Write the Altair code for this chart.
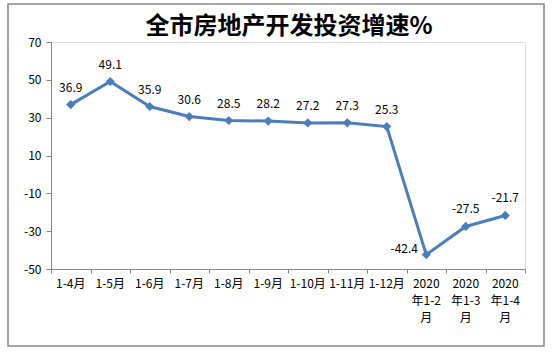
import altair as alt
import pandas as pd

categories = ["1-4月", "1-5月", "1-6月", "1-7月", "1-8月", "1-9月", "1-10月",
              "1-11月", "1-12月", "2020年1-2月", "2020年1-3月", "2020年1-4月"]
values = [36.9, 49.1, 35.9, 30.6, 28.5, 28.2, 27.2, 27.3, 25.3, -42.4, -27.5, -21.7]
y_ticks = [70, 50, 30, 10, -10, -30, -50]
title_text = "全市房地产开发投资增速%"


def wrap(c):
    if c.startswith("2020"):
        return c[:4] + "\n" + c[4:8] + "\n" + c[8:]
    return c


df = pd.DataFrame({"cat": categories, "val": values,
                   "lab": [wrap(c) for c in categories]})

FONT = "Noto Sans CJK SC"
BLUE = "#4A7EBB"
AX = "#868686"
H = 227

x_enc = alt.X(
    "cat:N", sort=categories,
    scale=alt.Scale(type="band", paddingInner=0, paddingOuter=0),
    axis=alt.Axis(
        title=None, labels=False, tickBand="extent", tickSize=4,
        domainColor=AX, tickColor=AX,
    ),
)
y_enc = alt.Y(
    "val:Q",
    scale=alt.Scale(domain=[-50, 70], nice=False, zero=False),
    axis=alt.Axis(
        title=None, values=y_ticks, grid=False, tickSize=5,
        domainColor=AX, tickColor=AX, labelColor="#000", labelFontSize=12,
        labelFont=FONT, labelPadding=5,
    ),
)

base = alt.Chart(df).encode(x=x_enc, y=y_enc)

line = base.mark_line(color=BLUE, strokeWidth=3)
pts = base.mark_point(shape="diamond", filled=True, color=BLUE, size=85, opacity=1)
labels_up = base.transform_filter("datum.val != -42.4").mark_text(
    dy=-17, fontSize=12, font=FONT, color="#000"
).encode(text=alt.Text("val:Q", format=".1f"))
labels_left = base.transform_filter("datum.val == -42.4").mark_text(
    dx=-22, dy=-6, fontSize=12, font=FONT, color="#000"
).encode(text=alt.Text("val:Q", format=".1f"))

xlabels = alt.Chart(df).mark_text(
    baseline="top", fontSize=12, font=FONT, color="#000", lineBreak="\n", lineHeight=17
).encode(x=alt.X("cat:N", sort=categories), y=alt.value(H + 10), text="lab:N")

border = alt.Chart(alt.Data(values=[{"a": 1}])).mark_rect(
    fill="transparent", stroke="#888888", strokeWidth=1.5
).encode(x=alt.value(-43), x2=alt.value(493), y=alt.value(-38), y2=alt.value(304))

title = alt.Chart(alt.Data(values=[{"t": title_text}])).mark_text(
    fontSize=24, font=FONT, fontWeight="bold", color="#000", baseline="middle", align="center"
).encode(x=alt.value(238), y=alt.value(-15), text="t:N")

chart = alt.layer(border, title, line, pts, labels_up, labels_left, xlabels).properties(
    width=474, height=H,
    autosize=alt.AutoSizeParams(type="none"),
    padding={"left": 51, "top": 42, "right": 27, "bottom": 84},
    background="white",
).configure_view(stroke=None).configure(
    locale=alt.Locale(number=alt.NumberLocale(
        decimal=".", thousands=",", grouping=[3], currency=["", ""], minus="-"))
)

chart.save("out.html", embed_options={"renderer": "svg", "actions": False})
